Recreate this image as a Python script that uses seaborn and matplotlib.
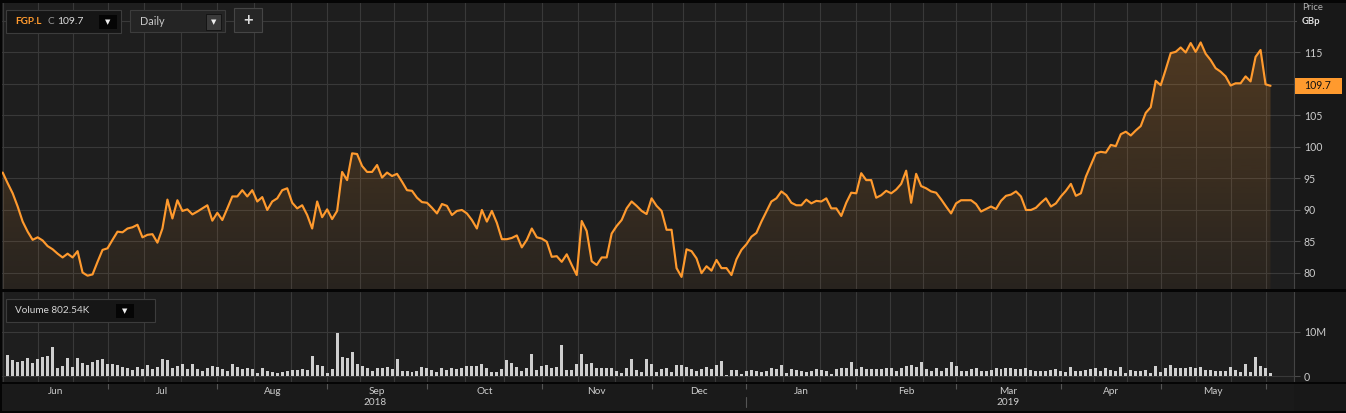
import numpy as np
import pandas as pd
import matplotlib
matplotlib.use("Agg")
import matplotlib.pyplot as plt
import matplotlib.transforms as mtransforms
from matplotlib.patches import Rectangle
from matplotlib.colors import to_rgb
import seaborn as sns

# ---------------- data ----------------
price = [
    95.9, 94.2, 92.6, 90.5, 88.1, 86.5, 85.2, 85.6, 85.1, 84.2,
    83.7, 83.0, 82.4, 83.0, 82.4, 83.4, 80.0, 79.5, 79.7, 81.7,
    83.6, 83.85, 85.2, 86.5, 86.4, 87.0, 87.2, 87.6, 85.6, 86.0,
    86.1, 84.75, 87.0, 91.6, 88.6, 91.5, 89.8, 90.05, 89.25, 89.7,
    90.2, 90.7, 88.25, 89.5, 88.35, 90.2, 92.1, 92.1, 93.1, 92.1,
    93.1, 91.3, 92.0, 89.95, 91.3, 91.8, 93.1, 93.4, 91.1, 90.2,
    90.7, 89.15, 87.0, 91.3, 88.8, 90.05, 88.5, 89.8, 96.0, 94.7,
    98.96, 98.85, 96.95, 96.0, 96.0, 97.1, 95.1, 95.9, 95.35, 95.7,
    94.45, 93.1, 93.0, 91.9, 91.2, 91.1, 90.3, 89.4, 90.9, 90.6,
    89.15, 89.8, 89.95, 89.4, 88.35, 87.0, 89.95, 88.1, 89.8, 87.9,
    85.3, 85.3, 85.5, 85.9, 84.0, 85.2, 87.0, 85.6, 85.4, 84.9,
    82.5, 82.6, 81.7, 82.9, 81.2, 79.6, 88.2, 86.6, 81.8, 81.2,
    82.4, 82.4, 86.2, 87.4, 88.35, 90.2, 91.3, 90.6, 89.8, 89.3,
    91.8, 90.6, 89.8, 86.8, 86.8, 80.7, 79.3, 83.7, 83.4, 82.25,
    79.9, 81.0, 80.3, 82.0, 80.7, 80.7, 79.6, 82.1, 83.6, 84.5,
    85.7, 86.3, 88.1, 89.7, 91.3, 91.8, 92.9, 92.3, 91.1, 90.7,
    90.7, 91.6, 91.0, 91.4, 91.3, 91.8, 90.2, 90.2, 89.0, 91.1,
    92.7, 92.6, 95.8, 94.7, 94.7, 91.9, 92.3, 93.0, 92.6,
    93.2, 94.1, 96.2, 91.1, 95.7, 93.75, 93.4, 92.9, 92.7, 91.65,
    90.5, 89.4, 91.0, 91.5, 91.5, 91.5, 90.9, 89.7, 90.1, 90.5,
    90.1, 91.4, 92.2, 92.4, 92.9, 92.1, 89.95, 89.95, 90.3, 91.1,
    91.8, 90.5, 91.0, 92.1, 93.0, 94.1, 92.2, 92.6, 95.25, 97.1,
    98.96, 99.2, 99.07, 100.3, 100.1, 102.0, 102.4, 101.8, 102.6, 103.3,
    105.4, 106.3, 110.5, 109.8, 112.3, 114.9, 115.1, 115.8, 115.0, 116.5,
    115.1, 116.6, 114.8, 113.8, 112.5, 111.95, 111.2, 109.75, 110.1, 110.1,
    111.2, 110.4, 114.3, 115.4, 109.94, 109.7,
]

volume_m = [
    4.66, 3.53, 3.16, 3.38, 3.98, 3.0, 3.9, 4.29, 4.5, 6.54,
    1.88, 2.26, 4.14, 2.03, 3.98, 3.0, 2.4, 3.16, 3.6, 3.83,
    2.63, 2.63, 2.48, 2.03, 1.88, 1.35, 2.03, 1.65, 2.48, 1.65,
    2.03, 3.76, 3.53, 1.88, 2.26, 2.78, 1.5, 2.63, 1.5, 1.13,
    1.73, 2.26, 2.1, 1.65, 1.13, 2.78, 2.03, 1.5, 1.73, 1.65,
    0.75, 1.8, 1.13, 0.9, 0.75, 0.9, 1.13, 1.28, 1.43, 1.65,
    1.43, 4.5, 2.4, 2.18, 0.6, 1.5, 9.77, 4.36, 4.14, 5.49,
    2.63, 2.26, 1.73, 1.13, 1.73, 1.88, 2.03, 1.5, 3.76, 1.13,
    1.13, 0.9, 1.13, 2.03, 1.88, 1.28, 0.9, 1.73, 1.28,
    1.73, 1.5, 1.73, 2.26, 2.26, 2.26, 2.63, 1.73, 0.98, 0.98,
    1.5, 3.6, 2.86, 2.1, 1.13, 1.88, 4.89, 1.28, 2.26, 2.48,
    1.88, 2.1, 6.99, 1.28, 1.35, 2.78, 5.04, 2.78, 3.0, 1.88,
    1.88, 1.88, 1.88, 1.13, 0.75, 1.88, 3.76, 1.28, 0.9, 3.76,
    2.78, 0.98, 1.5, 1.73, 0.9, 2.4, 2.4, 2.1, 1.5, 1.13,
    1.5, 2.1, 1.5, 2.4, 3.38, 0.15, 1.28, 1.28, 0.53, 1.13,
    1.28, 1.13, 0.98, 1.13, 1.88, 1.65, 2.4, 0.75, 1.5, 1.35,
    1.13, 0.9, 1.13, 1.5, 1.28, 1.13, 0.53, 1.5, 1.73, 1.88,
    3.23, 1.65, 2.03, 1.65, 1.65, 1.65, 1.5, 1.88,
    1.73, 1.13, 1.88, 2.26, 2.48, 2.03, 3.16, 1.5, 1.13, 1.88,
    1.13, 1.88, 3.16, 2.26, 1.13, 1.13, 1.5, 1.73, 1.13, 1.13,
    1.35, 1.88, 1.65, 1.88, 1.73, 1.5, 1.5, 1.73, 1.35, 1.13,
    1.13, 1.13, 1.35, 1.5, 1.13, 0.9, 2.1, 1.13, 1.13, 1.35,
    1.65, 1.88, 1.13, 1.88, 1.35, 1.13, 2.03, 0.75, 1.28, 1.13,
    1.13, 1.28, 0.75, 2.26, 0.9, 1.73, 2.48, 1.73, 1.73, 1.73,
    2.03, 1.88, 2.03, 1.28, 1.35, 1.13, 1.13, 1.13, 2.03, 1.35,
    0.98, 2.63, 0.98, 4.36, 2.26, 1.73, 0.75,
]

price_ticks = [80, 85, 90, 95, 100, 105, 110, 115, 120]
price_tick_labels = ["80", "85", "90", "95", "100", "105", "", "115", ""]
volume_ticks = [0, 10]
volume_tick_labels = ["0", "10M"]
month_names = ["Jun", "Jul", "Aug", "Sep", "Oct", "Nov", "Dec",
               "Jan", "Feb", "Mar", "Apr", "May"]
uk_holidays = ["2018-08-27", "2018-12-25", "2018-12-26", "2019-01-01",
               "2019-04-19", "2019-04-22", "2019-05-06", "2019-05-27"]
ticker = "FGP.L"
last_close_label = "109.7"
volume_label = "Volume 802.54K"
interval_label = "Daily"

# ---------------- style ----------------
sns.set_theme(style="dark")
plt.rcParams["font.family"] = ["Lato", "DejaVu Sans"]

FIG_BG = "#181818"
BG = "#1e1e1e"
GRID = "#393939"
TXT = "#cccccc"
ORANGE = "#ff9a2e"
TICK_FS = 7.6

W, H = 1346, 413
fig = plt.figure(figsize=(W / 100, H / 100), dpi=100, facecolor=FIG_BG)


def fbox(x0, y0, x1, y1):
    return [x0 / W, 1 - y1 / H, (x1 - x0) / W, (y1 - y0) / H]


def frect(x0, y0, x1, y1, **kw):
    r = Rectangle((x0 / W, 1 - y1 / H), (x1 - x0) / W, (y1 - y0) / H,
                  transform=fig.transFigure, **kw)
    fig.add_artist(r)
    return r


def ftext(x, y, s, **kw):
    return fig.text(x / W, 1 - y / H, s, **kw)


# calendar of trading days
days = pd.bdate_range("2018-06-01", "2019-07-31")
days = days[~days.isin(pd.to_datetime(uk_holidays))][: len(price)]
idx = np.arange(len(price))
month_starts = [0] + [i for i in range(1, len(days)) if days[i].month != days[i - 1].month]
year_start = [i for i in range(1, len(days)) if days[i].year != days[i - 1].year][0]
grid_x = []
for a, b in zip(month_starts[:-1], month_starts[1:]):
    grid_x += [a, a + (b - a) / 3, a + 2 * (b - a) / 3]
grid_x.append(month_starts[-1])
xlim = (-0.14, 258.7)

ax_p = fig.add_axes(fbox(2, 0, 1294, 289))
ax_v = fig.add_axes(fbox(2, 292, 1294, 382))
ax_x = fig.add_axes(fbox(2, 383, 1294, 411))

# ---------------- price panel ----------------
ax_p.set_facecolor(BG)
sns.lineplot(x=idx, y=price, ax=ax_p, color=ORANGE, linewidth=1.55, zorder=4)
ylo, yhi = 77.38, 123.35
fill = ax_p.fill_between(idx, price, ylo, facecolor="none", edgecolor="none")
yy = np.linspace(ylo, yhi, 256)
alpha = np.clip(0.05 + 0.17 * (yy - 78) / (117 - 78), 0.04, 0.25)
rgba = np.zeros((256, 1, 4))
rgba[..., :3] = to_rgb(ORANGE)
rgba[:, 0, 3] = alpha
im = ax_p.imshow(rgba, extent=[idx[0], idx[-1], ylo, yhi], origin="lower",
                 aspect="auto", zorder=2, interpolation="bilinear")
im.set_clip_path(fill.get_paths()[0], transform=ax_p.transData)
ax_p.set_xlim(xlim)
ax_p.set_ylim(ylo, yhi)
ax_p.yaxis.tick_right()
ax_p.set_yticks(price_ticks)
ax_p.set_yticklabels(price_tick_labels)
ax_p.set_xticks(grid_x)
ax_p.tick_params(axis="x", length=0, labelbottom=False)
ax_p.tick_params(axis="y", colors="#4a4a4a", labelcolor=TXT, length=4, width=0.8,
                 pad=3, labelsize=TICK_FS, right=True, left=False)
ax_p.grid(True, color=GRID, linewidth=0.8)
ax_p.set_xlabel("")
ax_p.set_ylabel("")
for s in ["top", "left", "bottom"]:
    ax_p.spines[s].set_visible(False)
ax_p.spines["right"].set_color("#444444")
ax_p.spines["right"].set_linewidth(0.8)

trans = mtransforms.blended_transform_factory(ax_p.transAxes, ax_p.transData)
last = price[-1]
ax_p.add_patch(Rectangle((1.0008, last - 1.23), 0.0364, 2.46, transform=trans,
                         clip_on=False, facecolor=ORANGE, edgecolor="none", zorder=6))
ax_p.text(1.0075, last, last_close_label, transform=trans, color="#111111",
          fontsize=TICK_FS, va="center", ha="left", zorder=7, clip_on=False)

ftext(1302, 7, "Price", color="#b0b0b0", fontsize=6.8, va="center", zorder=12)
ftext(1302, 22, "GBp", color="#e0e0e0", fontsize=6.8, va="center", fontweight="bold",
      zorder=12)
frect(1297, 14, 1346, 30, facecolor=FIG_BG, edgecolor="none", zorder=11)

# ---------------- volume panel ----------------
ax_v.set_facecolor(BG)
vol_idx = idx[1:]
sns.barplot(x=vol_idx, y=volume_m, ax=ax_v, native_scale=True, color="#cfcfcf",
            width=0.6, errorbar=None, saturation=1, edgecolor="none", linewidth=0)
ax_v.set_xlim(xlim)
ax_v.set_ylim(-1.35, 18.96)
ax_v.yaxis.tick_right()
ax_v.set_yticks(volume_ticks)
ax_v.set_yticklabels(volume_tick_labels)
ax_v.set_xticks(grid_x)
ax_v.tick_params(axis="x", length=0, labelbottom=False)
ax_v.tick_params(axis="y", colors="#4a4a4a", labelcolor=TXT, length=4, width=0.8,
                 pad=3, labelsize=TICK_FS, right=True, left=False)
ax_v.grid(True, color=GRID, linewidth=0.8)
ax_v.set_xlabel("")
ax_v.set_ylabel("")
for s in ["top", "left", "bottom"]:
    ax_v.spines[s].set_visible(False)
ax_v.spines["right"].set_color("#444444")
ax_v.spines["right"].set_linewidth(0.8)

# ---------------- date axis ----------------
ax_x.set_facecolor("#1a1a1a")
ax_x.set_xlim(xlim)
ax_x.set_ylim(0, 1)
ax_x.set_yticks([])
ax_x.xaxis.set_ticks_position("top")
ax_x.set_xticks(month_starts[1:])
ax_x.tick_params(axis="x", direction="in", length=4, width=0.8, color="#555555",
                 labeltop=False, labelbottom=False)
for s in ax_x.spines.values():
    s.set_visible(False)
for name, a, b in zip(month_names, month_starts[:-1], month_starts[1:]):
    ax_x.text((a + b) / 2, 0.71, name, color=TXT, fontsize=7.2, ha="center", va="center")
ax_x.text(year_start / 2, 0.30, str(days[0].year), color=TXT, fontsize=7.2,
          ha="center", va="center")
ax_x.text((year_start + idx[-1]) / 2, 0.30, str(days[-1].year), color=TXT,
          fontsize=7.2, ha="center", va="center")
ax_x.axvline(year_start, ymin=0.15, ymax=0.51, color="#555555", linewidth=0.8)

# separators
frect(0, 0, W, 3, facecolor="#050505", edgecolor="none", zorder=10)
frect(0, 289, W, 292, facecolor="#050505", edgecolor="none", zorder=10)
frect(0, 382, W, 383.5, facecolor="#050505", edgecolor="none", zorder=10)
frect(0, 411, W, H, facecolor="#050505", edgecolor="none", zorder=10)
frect(0, 0, 1.5, H, facecolor="#050505", edgecolor="none", zorder=10)

# ---------------- controls ----------------
frect(6, 10, 121, 33, facecolor="#151515", edgecolor="#3c3c3c", linewidth=0.8, zorder=11)
ftext(15, 22, ticker, color=ORANGE, fontsize=7.2, va="center", fontweight="bold", zorder=12)
ftext(48, 22, "C", color="#9a9a9a", fontsize=7.2, va="center", zorder=12)
ftext(57, 22, last_close_label, color="#dcdcdc", fontsize=7.5, va="center", zorder=12)
frect(99, 15, 117, 29, facecolor="#050505", edgecolor="none", zorder=12)
ftext(108, 22, "▼", color="#eeeeee", fontsize=5, va="center", ha="center", zorder=13,
      family=["DejaVu Sans"])

frect(130, 10, 225, 32, facecolor="#242424", edgecolor="#3c3c3c", linewidth=0.8, zorder=11)
ftext(140, 21.5, interval_label, color="#c8c8c8", fontsize=7.8, va="center", zorder=12)
frect(206, 14, 221, 30, facecolor="#3a3a3a", edgecolor="#111111", linewidth=0.6, zorder=12)
ftext(213.5, 22, "▼", color="#eeeeee", fontsize=5, va="center", ha="center", zorder=13,
      family=["DejaVu Sans"])

frect(234, 8, 262, 32, facecolor="#262626", edgecolor="#454545", linewidth=0.8, zorder=11)
ftext(248, 19.5, "+", color="#dddddd", fontsize=12, va="center", ha="center",
      fontweight="bold", zorder=12)

frect(6, 299, 155, 322, facecolor="#161616", edgecolor="#3c3c3c", linewidth=0.8, zorder=11)
ftext(15, 310.5, volume_label, color="#d6d6d6", fontsize=7.2, va="center", zorder=12)
frect(116, 304, 134, 318, facecolor="#050505", edgecolor="none", zorder=12)
ftext(125, 311, "▼", color="#eeeeee", fontsize=5, va="center", ha="center", zorder=13,
      family=["DejaVu Sans"])

fig.savefig("out.png", dpi=100, facecolor=FIG_BG)
